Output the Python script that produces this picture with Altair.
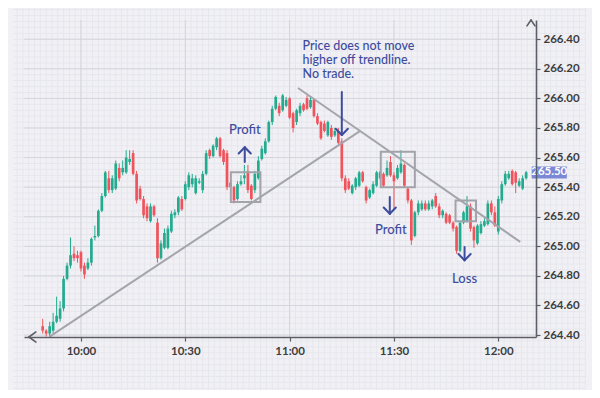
import altair as alt
import pandas as pd
import numpy as np

# ---------------- data (1-minute candles from 09:49 to 12:08) ----------------
START_MINUTE = 589  # 09:49 expressed as minutes after midnight

opens = [
    264.46, 264.43, 264.41, 264.43, 264.49, 264.51, 264.58, 264.78, 264.87, 264.95,
    264.94, 264.96, 264.87, 264.85, 264.89, 265.06, 265.07, 265.24, 265.34, 265.46,
    265.38, 265.39, 265.53, 265.50, 265.50, 265.57, 265.63, 265.49, 265.39, 265.32,
    265.27, 265.17, 265.27, 265.16, 264.92, 264.99, 264.99, 265.10, 265.21, 265.23,
    265.32, 265.32, 265.40, 265.42, 265.36, 265.43, 265.38, 265.49, 265.65, 265.61,
    265.67, 265.73, 265.65, 265.63, 265.43, 265.40, 265.32, 265.42, 265.46, 265.51,
    265.41, 265.38, 265.46, 265.59, 265.63, 265.71, 265.84, 265.93, 265.95, 265.92,
    265.95, 266.00, 265.90, 265.84, 265.90, 265.96, 266.00, 265.94, 265.99, 265.88,
    265.84, 265.83, 265.75, 265.80, 265.75, 265.78, 265.71, 265.46, 265.44, 265.36,
    265.40, 265.41, 265.50, 265.40, 265.33, 265.36, 265.41, 265.46, 265.49, 265.48,
    265.57, 265.48, 265.46, 265.50, 265.55, 265.39, 265.31, 265.07, 265.23, 265.25,
    265.29, 265.25, 265.27, 265.34, 265.27, 265.21, 265.22, 265.21, 265.16, 265.13,
    264.97, 265.16, 265.17, 265.27, 265.13, 265.02, 265.09, 265.14, 265.15, 265.29,
    265.23, 265.10, 265.31, 265.42, 265.46, 265.51, 265.50, 265.41, 265.39, 265.46,
]
highs = [
    264.51, 264.44, 264.49, 264.55, 264.66, 264.63, 264.80, 264.89, 265.06, 265.00,
    264.97, 264.97, 264.89, 264.92, 265.06, 265.14, 265.25, 265.36, 265.51, 265.51,
    265.48, 265.58, 265.56, 265.58, 265.65, 265.65, 265.65, 265.51, 265.41, 265.34,
    265.29, 265.29, 265.28, 265.19, 265.04, 265.12, 265.14, 265.24, 265.25, 265.34,
    265.34, 265.44, 265.50, 265.49, 265.48, 265.46, 265.51, 265.65, 265.66, 265.69,
    265.74, 265.74, 265.66, 265.65, 265.44, 265.41, 265.44, 265.48, 265.55, 265.55,
    265.42, 265.51, 265.61, 265.68, 265.73, 265.85, 265.95, 266.02, 265.97, 266.03,
    266.01, 266.01, 265.91, 265.93, 265.97, 265.97, 266.02, 266.01, 266.00, 265.90,
    265.85, 265.85, 265.85, 265.82, 265.80, 265.80, 265.73, 265.48, 265.46, 265.42,
    265.47, 265.51, 265.51, 265.41, 265.39, 265.44, 265.51, 265.51, 265.50, 265.58,
    265.61, 265.50, 265.55, 265.65, 265.56, 265.40, 265.32, 265.24, 265.31, 265.31,
    265.31, 265.31, 265.32, 265.36, 265.29, 265.25, 265.23, 265.22, 265.17, 265.14,
    265.17, 265.24, 265.34, 265.29, 265.14, 265.15, 265.17, 265.19, 265.31, 265.31,
    265.27, 265.34, 265.44, 265.51, 265.51, 265.52, 265.51, 265.46, 265.48, 265.51,
]
lows = [
    264.41, 264.39, 264.39, 264.41, 264.48, 264.49, 264.56, 264.77, 264.85, 264.90,
    264.89, 264.83, 264.78, 264.84, 264.87, 265.04, 265.06, 265.23, 265.33, 265.36,
    265.36, 265.38, 265.44, 265.48, 265.49, 265.55, 265.48, 265.29, 265.31, 265.19,
    265.17, 265.16, 265.20, 264.89, 264.91, 264.98, 264.98, 265.09, 265.19, 265.21,
    265.24, 265.31, 265.38, 265.40, 265.35, 265.42, 265.36, 265.48, 265.59, 265.60,
    265.65, 265.60, 265.55, 265.38, 265.38, 265.29, 265.31, 265.41, 265.42, 265.36,
    265.31, 265.36, 265.45, 265.58, 265.62, 265.70, 265.82, 265.92, 265.88, 265.91,
    265.94, 265.86, 265.77, 265.82, 265.88, 265.91, 265.92, 265.93, 265.87, 265.82,
    265.72, 265.77, 265.74, 265.72, 265.74, 265.69, 265.44, 265.36, 265.38, 265.35,
    265.38, 265.40, 265.43, 265.29, 265.32, 265.35, 265.40, 265.45, 265.40, 265.47,
    265.47, 265.25, 265.45, 265.49, 265.40, 265.29, 265.01, 265.06, 265.21, 265.24,
    265.24, 265.24, 265.25, 265.26, 265.19, 265.19, 265.15, 265.15, 265.10, 264.95,
    264.96, 265.15, 265.16, 265.10, 264.99, 265.01, 265.08, 265.13, 265.14, 265.21,
    265.13, 265.08, 265.29, 265.41, 265.45, 265.41, 265.36, 265.40, 265.38, 265.45,
]
closes = [
    264.43, 264.41, 264.46, 264.49, 264.53, 264.58, 264.78, 264.87, 264.94, 264.92,
    264.92, 264.85, 264.81, 264.89, 265.05, 265.07, 265.24, 265.34, 265.50, 265.38,
    265.46, 265.56, 265.46, 265.53, 265.60, 265.59, 265.49, 265.31, 265.32, 265.21,
    265.19, 265.27, 265.21, 264.92, 265.02, 265.09, 265.12, 265.22, 265.23, 265.33,
    265.25, 265.42, 265.48, 265.46, 265.46, 265.44, 265.49, 265.63, 265.61, 265.68,
    265.73, 265.61, 265.57, 265.40, 265.40, 265.31, 265.42, 265.44, 265.48, 265.38,
    265.32, 265.49, 265.58, 265.66, 265.71, 265.84, 265.93, 266.01, 265.90, 266.02,
    265.99, 265.87, 265.80, 265.92, 265.95, 265.92, 265.93, 265.99, 265.88, 265.83,
    265.73, 265.78, 265.84, 265.74, 265.78, 265.70, 265.46, 265.38, 265.39, 265.41,
    265.46, 265.50, 265.44, 265.31, 265.38, 265.42, 265.50, 265.50, 265.41, 265.53,
    265.48, 265.44, 265.53, 265.56, 265.41, 265.31, 265.04, 265.23, 265.29, 265.29,
    265.25, 265.29, 265.31, 265.27, 265.21, 265.24, 265.16, 265.16, 265.12, 264.97,
    265.16, 265.23, 265.27, 265.12, 265.04, 265.14, 265.15, 265.17, 265.29, 265.23,
    265.14, 265.32, 265.42, 265.49, 265.49, 265.42, 265.43, 265.44, 265.46, 265.50,
]

# axis ticks
x_tick_minutes = [600, 630, 660, 690, 720]          # 10:00 ... 12:00
y_tick_prices = [264.4, 264.6, 264.8, 265.0, 265.2, 265.4, 265.6, 265.8, 266.0, 266.2, 266.4]
last_price_label = "265.50"
last_price = 265.50

# annotations (minute, price)
trend_x1 = [591.0, 662.4]
trend_y1 = [264.39, 266.07]
trend_x2 = [680.3, 726.3]
trend_y2 = [265.78, 265.03]

box_x1 = [643.1, 686.2, 707.7]
box_x2 = [651.6, 696.0, 713.6]
box_y1 = [265.30, 265.40, 265.17]
box_y2 = [265.50, 265.64, 265.31]

arrow_x = [647.1, 675.0, 688.8, 710.3]
arrow_tail = [265.57, 266.044, 265.334, 264.996]
arrow_head = [265.67, 265.753, 265.22, 264.906]

label_text = ["Profit", "Profit", "Loss"]
label_x = [647.1, 689.1, 710.3]
label_y = [265.786, 265.11, 264.78]

note_text = "Price does not move\nhigher off trendline.\nNo trade."
note_x = 663.7
note_y = 266.33

# ---------------- styling ----------------
BG = "#f1f1f5"
FINE = "#e6e6ed"
MAJOR = "#d4d4dc"
AXIS = "#5b5e66"
GREEN = "#22ab8f"
RED = "#f0535b"
TREND = "#a4a4ad"
BLUE = "#3e4c9e"
LABEL_BG = "#7a88d6"
FONT = "Lato"

X_DOMAIN = [585.06, 729.4]
Y_DOMAIN = [264.387, 266.53]
W, H = 512, 317
PAD = {"left": 16, "top": 12, "right": 56, "bottom": 53}
PX_PER_MIN = W / (X_DOMAIN[1] - X_DOMAIN[0])
PX_PER_PRICE = H / (Y_DOMAIN[1] - Y_DOMAIN[0])

# whole-canvas extent for the graph-paper texture (beyond the plot area)
CANVAS_X = [X_DOMAIN[0] - PAD["left"] / PX_PER_MIN, X_DOMAIN[1] + PAD["right"] / PX_PER_MIN]
CANVAS_Y = [Y_DOMAIN[0] - PAD["bottom"] / PX_PER_PRICE, Y_DOMAIN[1] + PAD["top"] / PX_PER_PRICE]

xs = alt.Scale(domain=X_DOMAIN, nice=False, zero=False)
ys = alt.Scale(domain=Y_DOMAIN, nice=False, zero=False)

x_axis = alt.Axis(
    values=x_tick_minutes, grid=False, title=None,
    labelExpr="floor(datum.value/60) + ':' + (datum.value % 60 < 10 ? '0' : '') + (datum.value % 60)",
    domainColor=AXIS, domainWidth=1.6, tickColor=AXIS, tickSize=4, tickWidth=1.2,
    labelFont=FONT, labelFontSize=11.5, labelFontWeight="bold", labelColor="#3d3d3d",
    labelPadding=4, zindex=1,
)
y_axis = alt.Axis(
    orient="right", values=y_tick_prices, format=".2f", grid=False, title=None,
    domainColor=AXIS, domainWidth=1.6, tickColor=AXIS, tickSize=4, tickWidth=1.2,
    labelFont=FONT, labelFontSize=11.5, labelFontWeight="bold", labelColor="#3d3d3d",
    labelPadding=3, zindex=1,
)


def X(field):
    return alt.X(field, scale=xs, axis=x_axis)


def Y(field):
    return alt.Y(field, scale=ys, axis=y_axis)


# ---------------- background grid ----------------
step_x = 5 / 3
fine_x = [600 + k * step_x for k in range(-12, 90)]
fine_x = [v for v in fine_x if CANVAS_X[0] <= v <= CANVAS_X[1]]
fine_y = [264.0 + k * 0.04 for k in range(0, 70)]
fine_y = [v for v in fine_y if CANVAS_Y[0] <= v <= CANVAS_Y[1]]

fv = pd.DataFrame({"x": fine_x, "y1": CANVAS_Y[0], "y2": CANVAS_Y[1]})
fh = pd.DataFrame({"y": fine_y, "x1": CANVAS_X[0], "x2": CANVAS_X[1]})
fine_v = alt.Chart(fv).mark_rule(color=FINE, strokeWidth=1).encode(
    x=X("x:Q"), y=Y("y1:Q"), y2="y2:Q")
fine_h = alt.Chart(fh).mark_rule(color=FINE, strokeWidth=1).encode(
    y=Y("y:Q"), x=X("x1:Q"), x2="x2:Q")
major_v = alt.Chart(pd.DataFrame({"x": x_tick_minutes})).mark_rule(color=MAJOR, strokeWidth=1).encode(
    x=X("x:Q"))
major_h = alt.Chart(pd.DataFrame({"y": y_tick_prices})).mark_rule(color=MAJOR, strokeWidth=1).encode(
    y=Y("y:Q"))

# ---------------- candles ----------------
df = pd.DataFrame({
    "t": list(range(START_MINUTE, START_MINUTE + len(opens))),
    "open": opens, "high": highs, "low": lows, "close": closes,
})
df["dir"] = np.where(df["close"] >= df["open"], "up", "down")
color = alt.Color("dir:N", scale=alt.Scale(domain=["up", "down"], range=[GREEN, RED]), legend=None)

wicks = alt.Chart(df).mark_rule(strokeWidth=1).encode(
    x=X("t:Q"), y=Y("low:Q"), y2="high:Q", color=color)
bodies = alt.Chart(df).mark_bar(size=2.7).encode(
    x=X("t:Q"), y=Y("open:Q"), y2="close:Q", color=color)

# ---------------- trendlines & boxes ----------------
trend_df = pd.DataFrame({"x1": trend_x1, "y1": trend_y1, "x2": trend_x2, "y2": trend_y2})
trends = alt.Chart(trend_df).mark_rule(color=TREND, strokeWidth=2).encode(
    x=X("x1:Q"), y=Y("y1:Q"), x2="x2:Q", y2="y2:Q")

box_df = pd.DataFrame({"x1": box_x1, "x2": box_x2, "y1": box_y1, "y2": box_y2})
boxes = alt.Chart(box_df).mark_rect(fillOpacity=0, stroke="#a2a2ab", strokeWidth=2).encode(
    x=X("x1:Q"), x2="x2:Q", y=Y("y1:Q"), y2="y2:Q")

# ---------------- arrows ----------------
HW, HH = 1.75, 0.042  # chevron half-width (minutes) and height (price)
seg = []
for x, tail, head in zip(arrow_x, arrow_tail, arrow_head):
    d = 1 if head > tail else -1
    seg.append({"x1": x, "y1": tail, "x2": x, "y2": head})
    seg.append({"x1": x - HW, "y1": head - d * HH, "x2": x, "y2": head})
    seg.append({"x1": x + HW, "y1": head - d * HH, "x2": x, "y2": head})
arrows = alt.Chart(pd.DataFrame(seg)).mark_rule(color=BLUE, strokeWidth=2, strokeCap="round").encode(
    x=X("x1:Q"), y=Y("y1:Q"), x2="x2:Q", y2="y2:Q")

# axis arrowheads (top of price axis, left end of time axis)
ax_seg = [
    {"x1": X_DOMAIN[1] - 1.15, "y1": Y_DOMAIN[1] - 0.04, "x2": X_DOMAIN[1], "y2": Y_DOMAIN[1]},
    {"x1": X_DOMAIN[1] + 1.15, "y1": Y_DOMAIN[1] - 0.04, "x2": X_DOMAIN[1], "y2": Y_DOMAIN[1]},
    {"x1": X_DOMAIN[0] + 2.0, "y1": Y_DOMAIN[0] + 0.034, "x2": X_DOMAIN[0], "y2": Y_DOMAIN[0]},
    {"x1": X_DOMAIN[0] + 2.0, "y1": Y_DOMAIN[0] - 0.034, "x2": X_DOMAIN[0], "y2": Y_DOMAIN[0]},
]
axis_heads = alt.Chart(pd.DataFrame(ax_seg)).mark_rule(color=AXIS, strokeWidth=1.6, strokeCap="round").encode(
    x=X("x1:Q"), y=Y("y1:Q"), x2="x2:Q", y2="y2:Q")

# ---------------- texts ----------------
labels = alt.Chart(pd.DataFrame({"x": label_x, "y": label_y, "text": label_text})).mark_text(
    font=FONT, fontSize=13, color=BLUE, align="center", baseline="middle", fontWeight=500
).encode(x=X("x:Q"), y=Y("y:Q"), text="text:N")

note = alt.Chart(pd.DataFrame({"x": [note_x], "y": [note_y], "text": [note_text]})).mark_text(
    font=FONT, fontSize=12.5, color=BLUE, align="left", baseline="alphabetic",
    lineBreak="\n", lineHeight=14.3, fontWeight=500
).encode(x=X("x:Q"), y=Y("y:Q"), text="text:N")

# last price tag on the price axis
tag_df = pd.DataFrame({"x1": [X_DOMAIN[1] + 0.2], "x2": [X_DOMAIN[1] + 10.3],
                       "y1": [last_price - 0.042], "y2": [last_price + 0.04],
                       "xm": [X_DOMAIN[1] + 5.25], "y": [last_price], "text": [last_price_label]})
tag_box = alt.Chart(tag_df).mark_rect(color=LABEL_BG).encode(
    x=X("x1:Q"), x2="x2:Q", y=Y("y1:Q"), y2="y2:Q")
tag_text = alt.Chart(tag_df).mark_text(
    font=FONT, fontSize=11.5, fontWeight="bold", color="white", align="center", baseline="middle"
).encode(x=X("xm:Q"), y=Y("y:Q"), text="text:N")

chart = alt.layer(
    fine_v, fine_h, major_v, major_h,
    wicks, bodies, trends, boxes, arrows, axis_heads, labels, note, tag_box, tag_text,
).properties(
    width=W, height=H,
    padding=PAD,
    autosize=alt.AutoSizeParams(type="none"),
).configure(background=BG).configure_view(strokeWidth=0, fill=BG)

chart.save("out.html", embed_options={"renderer": "svg", "actions": False})
